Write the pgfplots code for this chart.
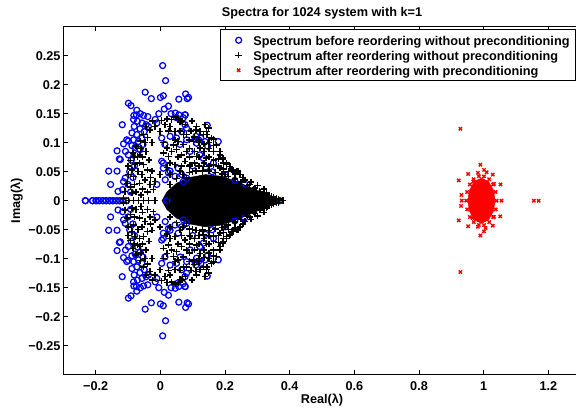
\documentclass[border=0pt]{standalone}
\usepackage{pgfplots}
\pgfplotsset{compat=1.18}
\usepackage{pgfplotstable}
\usepackage{fontspec}
\setmainfont{Liberation Sans}

% upper half (Imag >= 0); the spectrum is symmetric (conjugate pairs)
\pgfplotstableread{
x y
0.007 0.233
0.016 0.207
-0.047 0.187
-0.028 0.176
0.000 0.178
0.009 0.181
0.057 0.175
0.078 0.184
0.087 0.178
-0.099 0.168
-0.091 0.164
-0.073 0.156
-0.118 0.131
-0.082 0.147
-0.074 0.148
-0.062 0.150
-0.052 0.147
-0.039 0.145
-0.005 0.150
0.025 0.163
0.012 0.158
0.057 0.148
0.077 0.148
0.033 0.150
0.046 0.151
-0.114 0.098
-0.099 0.103
-0.134 0.086
-0.127 0.072
-0.108 0.085
-0.099 0.079
-0.160 0.051
-0.134 0.051
-0.154 0.028
-0.131 0.016
-0.117 0.019
-0.114 0.033
-0.109 0.039
-0.104 0.105
-0.124 0.071
-0.083 0.140
-0.071 0.137
-0.057 0.134
-0.044 0.131
-0.081 0.128
-0.063 0.124
-0.050 0.119
-0.037 0.128
-0.088 0.117
-0.073 0.114
-0.057 0.108
-0.083 0.105
-0.068 0.102
-0.054 0.097
-0.078 0.092
-0.063 0.088
-0.088 0.095
-0.070 0.080
-0.090 0.070
-0.080 0.060
-0.095 0.050
-0.085 0.040
-0.100 0.028
-0.092 0.015
0.004 0.068
0.009 0.056
0.030 0.051
0.045 0.042
0.055 0.056
0.071 0.033
0.050 0.108
0.061 0.097
0.081 0.105
0.014 0.097
0.004 0.108
0.030 0.111
0.066 0.119
0.076 0.131
0.050 0.143
0.071 0.143
-0.011 0.134
-0.016 0.140
0.009 0.065
0.015 0.036
-0.011 0.028
0.025 0.048
0.083 0.176
0.076 0.148
0.145 0.130
0.179 0.102
0.164 0.065
0.110 0.111
0.118 0.105
0.081 0.125
0.092 0.085
0.122 0.079
0.133 0.073
0.066 0.045
0.081 0.039
0.107 0.106
0.112 0.099
0.125 0.108
0.138 0.102
0.146 0.094
0.100 0.060
0.140 0.058
0.160 0.050
0.200 0.045
0.230 0.035
0.260 0.030
-0.232 0
-0.210 0
-0.199 0
-0.189 0
-0.178 0
-0.168 0
-0.157 0
-0.147 0
-0.136 0
-0.126 0
-0.115 0
-0.105 0
0.020 0
0.369 0
}\blueU

\pgfplotstableread{
x y
-0.024 0.137
0.004 0.138
0.020 0.141
0.035 0.140
0.046 0.144
0.056 0.141
0.067 0.137
0.077 0.131
0.097 0.137
0.110 0.122
0.122 0.119
0.138 0.131
0.149 0.125
0.144 0.114
0.164 0.106
0.174 0.096
0.184 0.085
0.194 0.071
0.205 0.062
0.220 0.053
0.235 0.051
0.246 0.045
0.261 0.036
0.276 0.028
0.292 0.022
0.307 0.016
0.328 0.013
0.343 0.007
0.359 0.004
0.379 0
-0.044 0.128
-0.032 0.122
-0.052 0.114
-0.040 0.109
-0.062 0.103
-0.047 0.100
-0.026 0.100
-0.075 0.094
-0.085 0.082
-0.071 0.076
-0.093 0.069
-0.078 0.062
-0.088 0.053
-0.099 0.045
-0.083 0.042
-0.104 0.030
-0.093 0.024
-0.109 0.016
-0.088 0.013
-0.114 0.004
-0.099 0
-0.083 0
-0.068 0
-0.052 0
-0.037 0
-0.016 0
-0.063 0.079
-0.052 0.062
-0.040 0.053
-0.057 0.045
-0.047 0.036
-0.032 0.028
-0.022 0.019
-0.016 0.033
-0.026 0.051
-0.070 0.050
-0.065 0.030
-0.075 0.015
-0.060 0.010
-0.016 0.128
-0.001 0.119
0.014 0.131
0.030 0.128
0.045 0.119
0.061 0.136
0.071 0.114
0.055 0.102
0.040 0.096
0.020 0.091
0.009 0.082
0.025 0.076
0.050 0.088
0.066 0.079
0.076 0.068
0.045 0.062
0.020 0.057
-0.001 0.045
0.030 0.045
0.061 0.051
0.081 0.039
0.112 0.128
0.133 0.114
0.143 0.119
0.158 0.108
0.164 0.085
0.184 0.079
0.194 0.074
0.205 0.065
0.215 0.059
0.225 0.053
0.240 0.051
0.081 0.114
0.102 0.102
0.122 0.091
0.081 0.085
0.112 0.076
0.143 0.074
0.092 0.062
0.133 0.059
0.164 0.062
0.184 0.056
0.071 0.097
0.095 0.120
0.120 0.100
0.150 0.090
0.100 0.050
0.130 0.050
0.200 0.045
0.030 0.028
0.050 0.038
0.070 0.045
0.090 0.049
0.110 0.051
0.130 0.052
0.150 0.051
0.170 0.049
0.190 0.046
0.210 0.042
0.230 0.037
0.250 0.032
0.270 0.026
0.290 0.020
0.310 0.015
0.330 0.010
0.350 0.006
0.365 0.003
0.040 0.015
0.025 0.008
0.090 0.060
0.090 0.075
0.090 0.090
0.090 0.105
0.105 0.065
0.105 0.085
0.105 0.110
0.120 0.060
0.120 0.075
0.120 0.105
0.135 0.065
0.135 0.085
0.135 0.098
0.150 0.060
0.150 0.075
0.150 0.100
0.165 0.070
0.165 0.095
0.180 0.060
0.180 0.072
0.195 0.055
0.195 0.065
0.210 0.050
0.230 0.046
0.255 0.040
0.280 0.032
0.300 0.026
0.320 0.020
0.010 0.100
0.035 0.085
0.055 0.075
0.065 0.060
0.030 0.065
0.045 0.105
0.025 0.120
0.060 0.120
-0.060 0.090
-0.045 0.085
-0.035 0.070
-0.030 0.040
-0.055 0.020
-0.040 0.015
-0.080 0.028
-0.065 0.065
-0.055 0.075
-0.080 0.075
-0.100 0.060
}\blackU

\pgfplotstableread{
x y
0.928 0.124
0.928 -0.123
0.990 0.062
1.001 0.053
1.009 0.049
0.952 0.046
0.982 0.048
1.028 0.045
0.923 0.035
0.968 0.033
1.032 0.029
1.052 0.028
0.931 0.010
0.932 0.000
0.930 -0.009
1.055 0.000
1.155 0.000
1.170 0.000
0.923 -0.034
0.952 -0.044
0.982 -0.045
1.006 -0.047
1.001 -0.053
0.990 -0.060
1.028 -0.043
1.051 -0.027
1.032 -0.028
0.965 -0.030
1.040 0.000
1.037 0.015
1.029 0.028
1.017 0.037
1.001 0.042
0.985 0.042
0.969 0.037
0.957 0.028
0.949 0.015
0.946 0.000
0.949 -0.015
0.957 -0.028
0.969 -0.037
0.985 -0.042
1.001 -0.042
1.017 -0.037
1.029 -0.028
1.037 -0.015
}\redP

\begin{document}
\fontsize{12.7}{15}\selectfont\bfseries
\begin{tikzpicture}
\begin{axis}[
  at={(0pt,0pt)}, anchor=south west,
  scale only axis, width=517.3pt, height=348pt,
  xmin=-0.3, xmax=1.3, ymin=-0.3, ymax=0.3,
  axis line style={line width=1pt},
  tick style={line width=1pt, black},
  tick align=inside, major tick length=4.5pt,
  xtick={-0.2,0,0.2,0.4,0.6,0.8,1,1.2},
  xticklabels={−0.2,0,0.2,0.4,0.6,0.8,1,1.2},
  ytick={-0.25,-0.2,-0.15,-0.1,-0.05,0,0.05,0.1,0.15,0.2,0.25},
  yticklabels={−0.25,−0.2,−0.15,−0.1,−0.05,0,0.05,0.1,0.15,0.2,0.25},
  xticklabel style={inner sep=0pt, anchor=north},
  xticklabel shift=6.8pt,
  yticklabel style={inner sep=0pt, anchor=east, xshift=-2.7pt},
  title={Spectra for 1024 system with k=1},
  title style={at={(0.5,1)}, anchor=base, yshift=4pt, inner sep=0pt},
  xlabel={Real(λ)},
  xlabel style={at={(0.5,0)}, anchor=base, yshift=-28.8pt, inner sep=0pt},
  ylabel={Imag(λ)},
  ylabel style={at={(-0.0839,0.5)}, anchor=base, inner sep=0pt},
  legend style={at={(0.9903,0.9925)}, anchor=north east, draw=black, line width=0.9pt,
    fill=white, inner xsep=5.7pt, inner ysep=4pt,
    nodes={inner sep=0pt, text height=12pt, text depth=1pt},
    row sep=2pt, cells={anchor=west}},
  legend image code/.code={\path (0pt,0pt) (26pt,0pt); \draw[#1] plot coordinates {(12pt,0pt)};},
]
\addplot[only marks, mark=o, mark size=3pt, line width=1.25pt, color=blue] table {\blueU};
\addlegendentry{Spectrum before reordering without preconditioning}
\addplot[only marks, mark=o, mark size=3pt, line width=1.25pt, color=blue, forget plot] table[y expr=-\thisrow{y}] {\blueU};
\addplot[fill=black, draw=black, line width=0.5pt, forget plot] coordinates {
(0.005,0) (0.02,0.015) (0.05,0.030) (0.09,0.040) (0.14,0.045) (0.19,0.042) (0.24,0.032) (0.29,0.020) (0.335,0.010) (0.375,0)
(0.335,-0.010) (0.29,-0.020) (0.24,-0.032) (0.19,-0.042) (0.14,-0.045) (0.09,-0.040) (0.05,-0.030) (0.02,-0.015)} -- cycle;
\addplot[only marks, mark=+, mark size=3.2pt, line width=1.5pt, color=black] table {\blackU};
\addlegendentry{Spectrum after reordering without preconditioning}
\addplot[only marks, mark=+, mark size=3.2pt, line width=1.5pt, color=black, forget plot] table[y expr=-\thisrow{y}] {\blackU};
\addplot[fill=red, draw=red, line width=0.5pt, forget plot] coordinates {
(1.035,0) (1.030,0.018) (1.015,0.033) (0.993,0.039) (0.971,0.033) (0.956,0.018) (0.951,0)
(0.956,-0.018) (0.971,-0.033) (0.993,-0.039) (1.015,-0.033) (1.030,-0.018)} -- cycle;
\addplot[only marks, mark=x, mark size=2.3pt, line width=1.4pt, color=red] table {\redP};
\addlegendentry{Spectrum after reordering with preconditioning}
\end{axis}
\pgfresetboundingbox
\path[use as bounding box] (-63.4pt,-34.3pt) rectangle (512.6pt,374.7pt);
\end{tikzpicture}
\end{document}
